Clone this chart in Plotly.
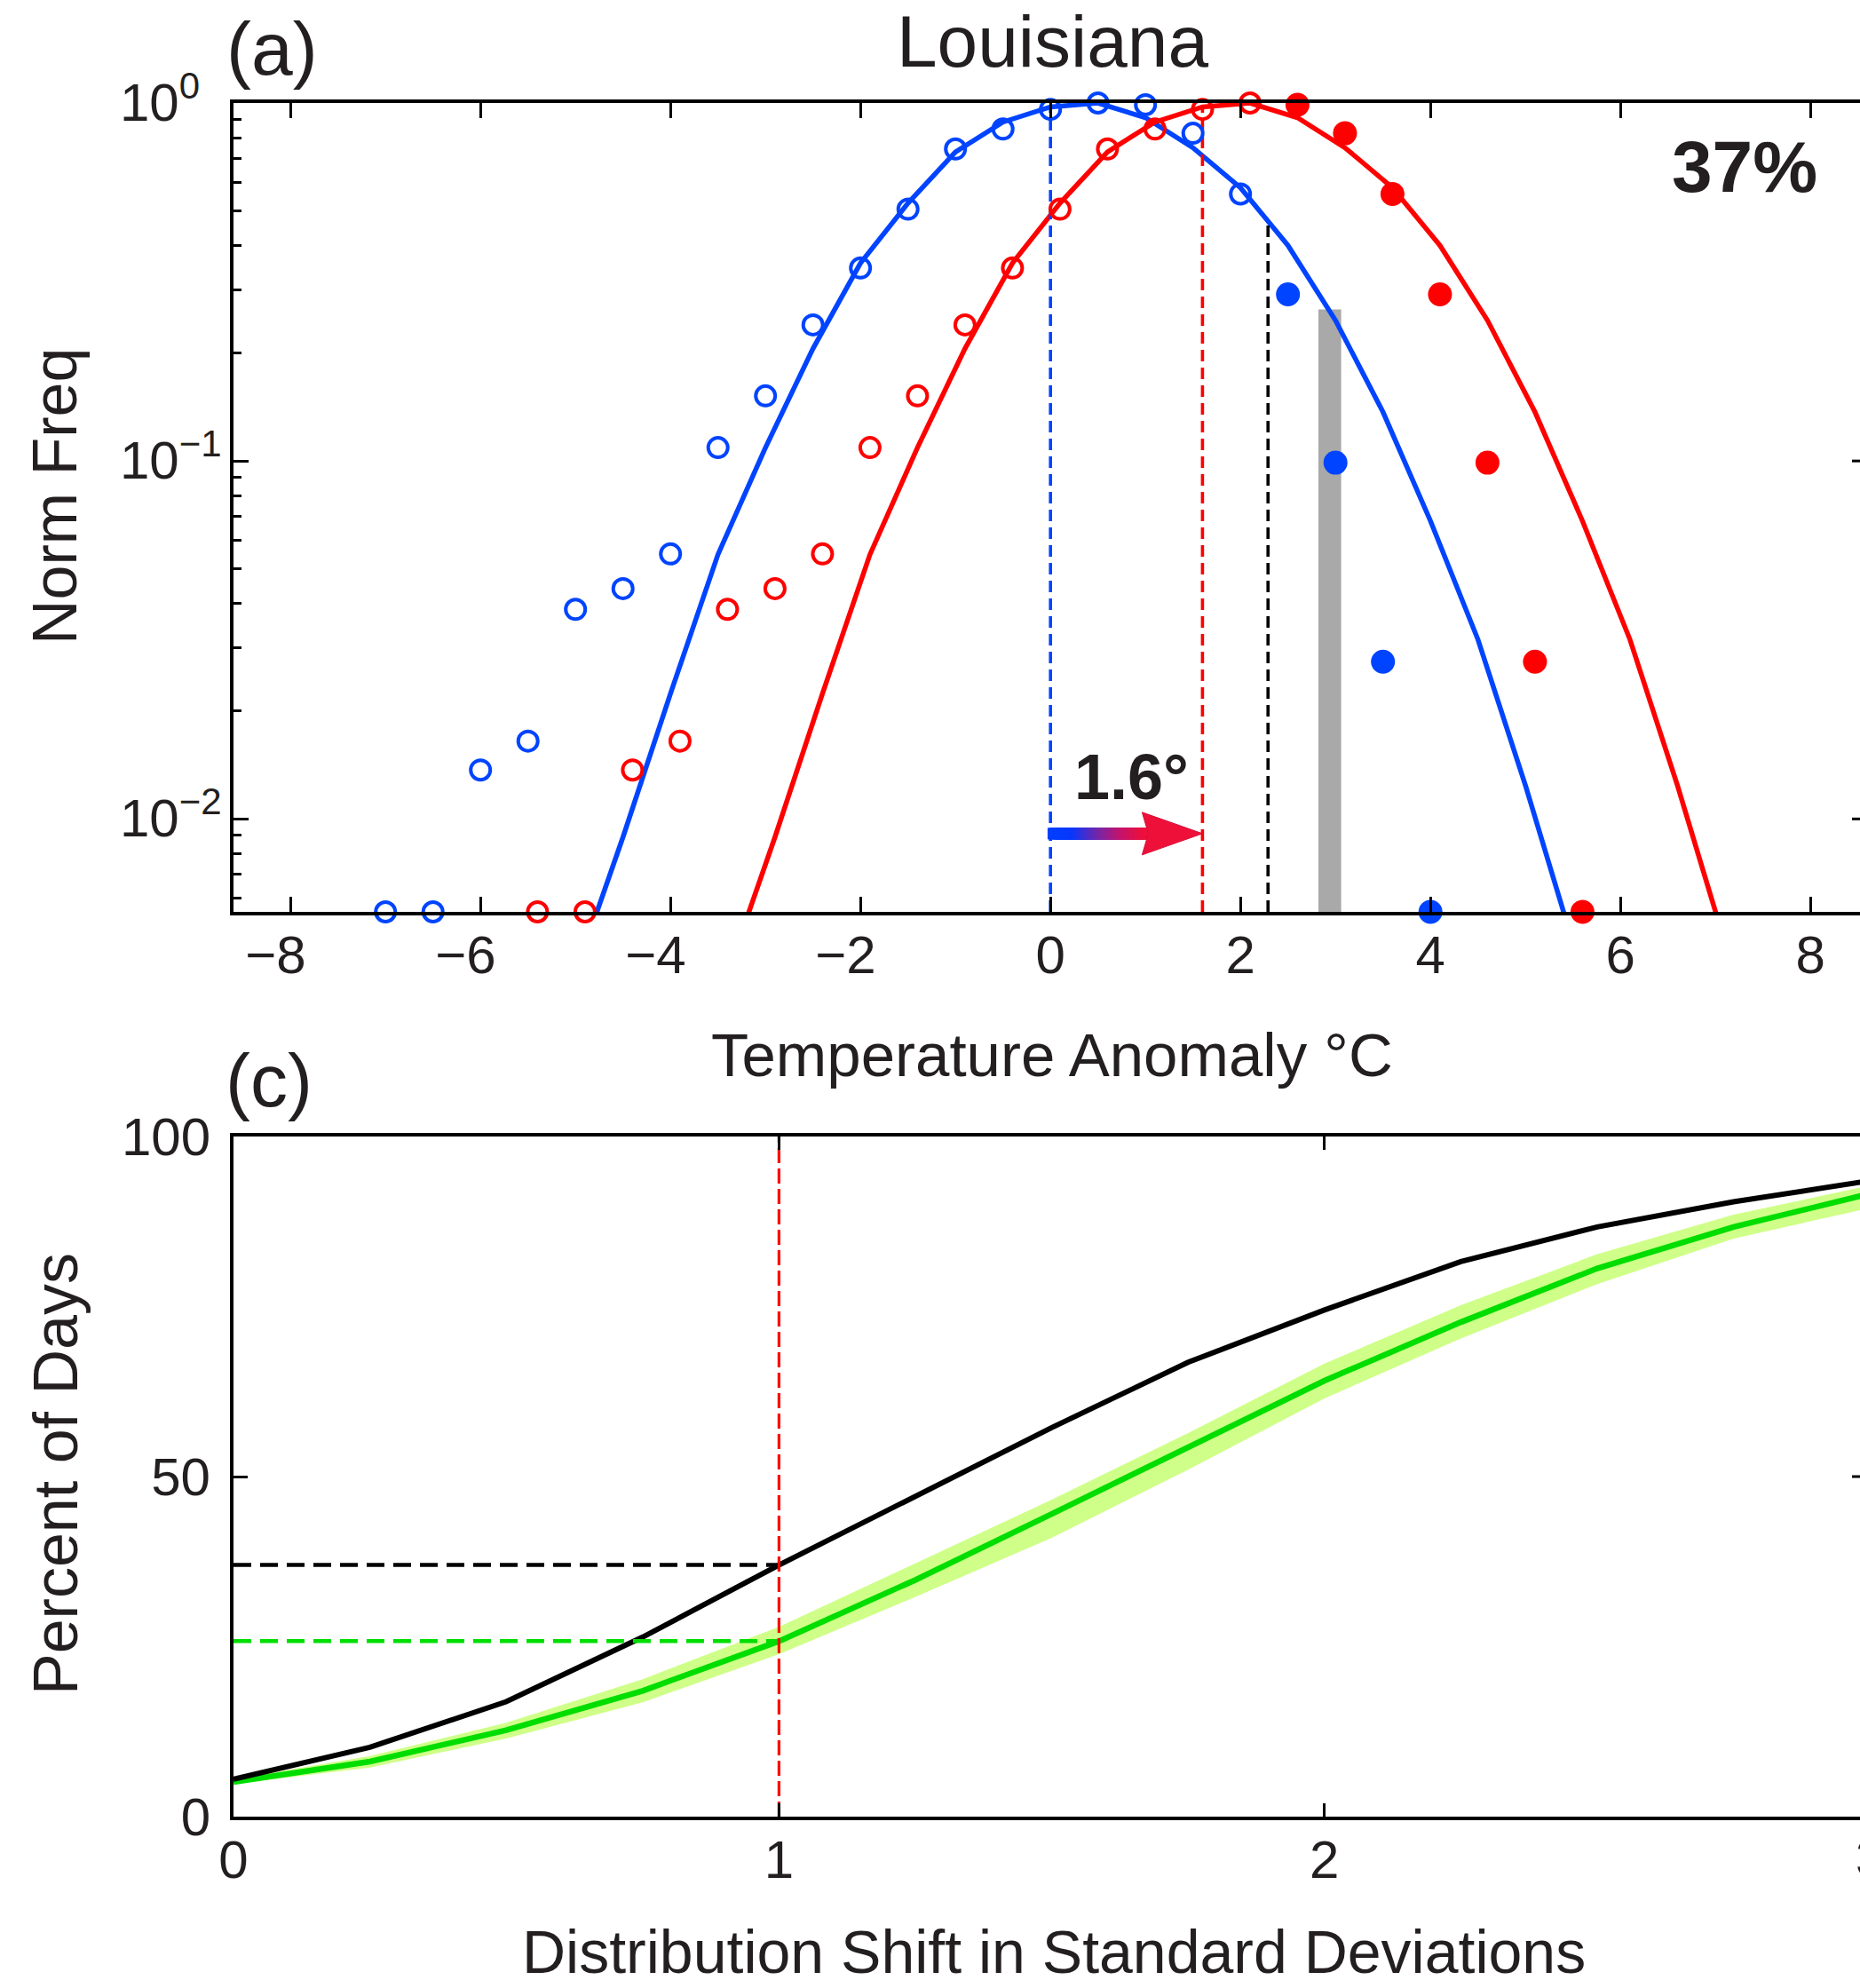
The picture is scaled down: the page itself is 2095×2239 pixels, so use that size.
import numpy as np
import plotly.graph_objects as go

W, H = 2095, 2239
FONT = "Liberation Sans, Arial, Helvetica, sans-serif"
TXT = "#231F20"
BLUE = "#0044FF"
RED = "#FF0000"
GREEN = "#00DD00"
BAND = "#CFFF88"
GRAY = "#A9A9A9"

# ---------------- panel (a): normalised frequency of daily anomalies ----------------
bins_base = [-7.0, -6.5, -6.0, -5.5, -5.0, -4.5, -4.0, -3.5, -3.0, -2.5, -2.0, -1.5,
             -1.0, -0.5, 0.0, 0.5, 1.0, 1.5, 2.0, 2.5, 3.0, 3.5, 4.0]
freq_base = [0.0055, 0.0055, 0.0137, 0.0165, 0.0385, 0.0440, 0.0550, 0.109, 0.152,
             0.240, 0.346, 0.505, 0.744, 0.846, 0.960, 1.0, 0.989, 0.823, 0.557,
             0.292, 0.0989, 0.0275, 0.0055]
bins_warm = [-5.4, -4.9, -4.4, -3.9, -3.4, -2.9, -2.4, -1.9, -1.4, -0.9, -0.4, 0.1,
             0.6, 1.1, 1.6, 2.1, 2.6, 3.1, 3.6, 4.1, 4.6, 5.1, 5.6]
freq_warm = [0.0055, 0.0055, 0.0137, 0.0165, 0.0385, 0.0440, 0.0550, 0.109, 0.152,
             0.240, 0.346, 0.505, 0.744, 0.846, 0.960, 1.0, 0.989, 0.823, 0.557,
             0.292, 0.0989, 0.0275, 0.0055]

# fitted Gaussian curves
fit_x_base = [-5.0, -4.5, -4.0, -3.5, -3.0, -2.5, -2.0, -1.5, -1.0, -0.5, 0.0,
              0.5, 1.0, 1.5, 2.0, 2.5, 3.0, 3.5, 4.0, 4.5, 5.0, 5.5]
fit_base = [0.0037, 0.0089, 0.0224, 0.0548, 0.109, 0.206, 0.357, 0.525, 0.73, 0.885,
            0.975, 1.0, 0.91, 0.75, 0.58, 0.40, 0.247, 0.137, 0.068, 0.0317, 0.0124, 0.0045]
fit_x_warm = [-3.4, -2.9, -2.4, -1.9, -1.4, -0.9, -0.4, 0.1, 0.6, 1.1, 1.6,
              2.1, 2.6, 3.1, 3.6, 4.1, 4.6, 5.1, 5.6, 6.1, 6.6, 7.1]
fit_warm = [0.0037, 0.0089, 0.0224, 0.0548, 0.109, 0.206, 0.357, 0.525, 0.73, 0.885,
            0.975, 1.0, 0.91, 0.75, 0.58, 0.40, 0.247, 0.137, 0.068, 0.0317, 0.0124, 0.0045]

mean_base = 0.0
mean_shift = 1.6          # warming shift of the distribution (deg C)
hot_threshold = 2.29      # extreme-heat threshold (deg C)
spread_x = 2.94           # grey spread bar
spread_top = 0.265
hot_pct = 37

freq_floor = 0.0055       # bottom of the log axis
x_ticks_a = [-8, -6, -4, -2, 0, 2, 4, 6, 8]
y_ticks_a = [0.01, 0.1, 1.0]
y_ticktext_a = ["10<sup>\u22122</sup>", "10<sup>\u22121</sup>", "10<sup>0</sup>"]

# ---------------- panel (c): percent of days above threshold ----------------
sd_shift = [0.0, 0.25, 0.5, 0.75, 1.0, 1.25, 1.5, 1.75, 2.0, 2.25, 2.5, 2.75, 3.0]
pct_obs = [5.5, 10.2, 16.9, 26.4, 37.0, 47.1, 57.2, 66.8, 74.5, 81.6, 86.7, 90.4, 93.5]
pct_model = [5.1, 8.1, 12.7, 18.5, 25.8, 34.8, 44.5, 54.3, 64.1, 72.7, 80.6, 86.7, 91.6]
pct_model_hi = [5.5, 8.9, 13.8, 20.2, 27.9, 37.2, 46.6, 56.4, 66.6, 75.2, 82.7, 88.5, 92.8]
pct_model_lo = [4.8, 7.2, 11.5, 16.8, 23.9, 32.3, 41.0, 51.0, 61.5, 70.3, 78.3, 85.0, 89.5]
one_sd = 1.0
x_ticks_c = [0, 1, 2, 3]
y_ticks_c = [0, 50, 100]


def px(x):
    return x / W


def py(y):
    return 1 - y / H


# plot area geometry (pixels)
LEFT = 263
A_TOP, A_BOT = 116, 1027
C_TOP, C_BOT = 1280, 2046

fig = go.Figure()

# fitted curves
fig.add_trace(go.Scatter(x=fit_x_base, y=fit_base, mode="lines",
                         line=dict(color=BLUE, width=5.5), xaxis="x", yaxis="y"))
fig.add_trace(go.Scatter(x=fit_x_warm, y=fit_warm, mode="lines",
                         line=dict(color=RED, width=5.5), xaxis="x", yaxis="y"))

# vertical reference lines
fit_at_base_mean = 10 ** np.interp(mean_base, fit_x_base, np.log10(fit_base))
fit_at_warm_mean = 10 ** np.interp(mean_shift, fit_x_warm, np.log10(fit_warm))
fit_at_thresh = 10 ** np.interp(hot_threshold, fit_x_base, np.log10(fit_base))
for xv, ytop, col in [(mean_base, fit_at_base_mean, BLUE),
                      (mean_shift, fit_at_warm_mean, RED),
                      (hot_threshold, fit_at_thresh, "black")]:
    fig.add_trace(go.Scatter(x=[xv, xv], y=[freq_floor, ytop], mode="lines",
                             line=dict(color=col, width=3.6, dash="13px,7px"),
                             xaxis="x", yaxis="y"))


def split(xs, ys):
    xs, ys = np.array(xs), np.array(ys)
    below = xs < hot_threshold
    return (xs[below], ys[below]), (xs[~below], ys[~below])


for xs, ys, col in [(bins_base, freq_base, BLUE), (bins_warm, freq_warm, RED)]:
    (xo, yo), (xf, yf) = split(xs, ys)
    fig.add_trace(go.Scatter(x=xo, y=yo, mode="markers", cliponaxis=False,
                             marker=dict(symbol="circle-open", size=22, color=col,
                                         line=dict(color=col, width=4)),
                             xaxis="x", yaxis="y"))
    fig.add_trace(go.Scatter(x=xf, y=yf, mode="markers", cliponaxis=False,
                             marker=dict(symbol="circle", size=27, color=col,
                                         line=dict(width=0)),
                             xaxis="x", yaxis="y"))

# gradient shaft of the shift arrow, built from closely packed square markers
arrow_y = 0.0091
shaft_end = mean_shift - 0.57
stops = np.array([[0, 64, 255], [10, 55, 250], [110, 40, 175], [195, 20, 110], [238, 16, 58]])
shaft_x = np.linspace(mean_base + 0.03, shaft_end, 70)
shaft_cols = []
for t in np.linspace(0, 1, len(shaft_x)):
    pos = t * (len(stops) - 1)
    k = min(int(pos), len(stops) - 2)
    f = pos - k
    c = stops[k] * (1 - f) + stops[k + 1] * f
    shaft_cols.append("rgb(%d,%d,%d)" % tuple(c.astype(int)))
fig.add_trace(go.Scatter(x=shaft_x, y=[arrow_y] * len(shaft_x), mode="markers",
                         marker=dict(symbol="square", size=13, color=shaft_cols,
                                     line=dict(width=0)),
                         xaxis="x", yaxis="y"))

# panel (c) curves
fig.add_trace(go.Scatter(x=sd_shift, y=pct_model_lo, mode="lines",
                         line=dict(width=0, color=BAND), xaxis="x2", yaxis="y2"))
fig.add_trace(go.Scatter(x=sd_shift, y=pct_model_hi, mode="lines", fill="tonexty",
                         fillcolor=BAND, line=dict(width=0, color=BAND),
                         xaxis="x2", yaxis="y2"))
fig.add_trace(go.Scatter(x=sd_shift, y=pct_model, mode="lines",
                         line=dict(color=GREEN, width=6.5), xaxis="x2", yaxis="y2"))
fig.add_trace(go.Scatter(x=sd_shift, y=pct_obs, mode="lines",
                         line=dict(color="black", width=6), xaxis="x2", yaxis="y2"))

obs_at_1sd = float(np.interp(one_sd, sd_shift, pct_obs))
model_at_1sd = float(np.interp(one_sd, sd_shift, pct_model))
fig.add_trace(go.Scatter(x=[0, one_sd], y=[obs_at_1sd, obs_at_1sd], mode="lines",
                         line=dict(color="black", width=4.5, dash="20px,10px"),
                         xaxis="x2", yaxis="y2"))
fig.add_trace(go.Scatter(x=[0, one_sd], y=[model_at_1sd, model_at_1sd], mode="lines",
                         line=dict(color=GREEN, width=4.5, dash="20px,10px"),
                         xaxis="x2", yaxis="y2"))
fig.add_trace(go.Scatter(x=[one_sd, one_sd], y=[0, 100], mode="lines",
                         line=dict(color=RED, width=3.2, dash="17px,6px"),
                         xaxis="x2", yaxis="y2"))

# shapes: grey spread bar, arrow head, right-hand tick marks
shapes = [dict(type="rect", xref="x", yref="y", x0=spread_x - 0.12, x1=spread_x + 0.12,
               y0=freq_floor, y1=spread_top, fillcolor=GRAY, line=dict(width=0),
               layer="below")]
shapes.append(dict(type="path", xref="x", yref="y", xsizemode="pixel", xanchor=mean_shift,
                   ysizemode="pixel", yanchor=arrow_y,
                   path="M 0 0 L -68 24 L -61 0 L -68 -24 Z",
                   fillcolor="#EE1038", line=dict(color="#D80F3A", width=1)))
for v in y_ticks_a[:-1]:
    shapes.append(dict(type="line", xref="paper", yref="y", x0=1 - 9 / W, x1=1,
                       y0=v, y1=v, line=dict(color="black", width=3)))
for v in y_ticks_c[1:-1]:
    shapes.append(dict(type="line", xref="paper", yref="y2", x0=1 - 9 / W, x1=1,
                       y0=v, y1=v, line=dict(color="black", width=3)))

tickfont = dict(family=FONT, size=60, color=TXT)
axis_common = dict(showgrid=False, zeroline=False, showline=True, linecolor="black",
                   linewidth=4, ticks="inside", tickcolor="black", tickwidth=3,
                   tickfont=tickfont, automargin=False)

x_range_a = [-8.6, -8.6 + (W - LEFT) / 107.0]
x_range_c = [0, (W - LEFT) / 614.4]
NB2 = "\u00a0\u00a0"

layout = dict(
    template="none",
    width=W, height=H, margin=dict(l=0, r=0, t=0, b=0, pad=0, autoexpand=False),
    paper_bgcolor="white", plot_bgcolor="white", showlegend=False,
    font=dict(family=FONT, color=TXT),
    xaxis=dict(domain=[px(LEFT), 1], anchor="y", range=x_range_a, tickvals=x_ticks_a,
               ticktext=[("\u2212%d%s" % (abs(v), NB2)) if v < 0 else str(v) for v in x_ticks_a],
               ticklen=17, mirror="ticks", ticklabelstandoff=-7, **axis_common),
    yaxis=dict(domain=[py(A_BOT), py(A_TOP)], anchor="x", type="log",
               range=[np.log10(freq_floor), 0], tickvals=y_ticks_a, showticklabels=False,
               ticklen=17, mirror=False,
               minor=dict(ticks="inside", ticklen=9, tickwidth=3, tickcolor="black",
                          dtick="D1", showgrid=False),
               **axis_common),
    xaxis2=dict(domain=[px(LEFT), 1], anchor="y2", range=x_range_c, tickvals=x_ticks_c,
                ticklen=15, mirror="ticks", ticklabelstandoff=-7, **axis_common),
    yaxis2=dict(domain=[py(C_BOT), py(C_TOP)], anchor="x2", range=[0, 100],
                tickvals=y_ticks_c, ticklen=16, mirror=False, ticklabelstandoff=10,
                **axis_common),
    shapes=shapes,
)

ann = []
# log-axis tick labels, left aligned like the "10" stems
for v, t in zip(y_ticks_a, y_ticktext_a):
    ann.append(dict(text=t, xref="paper", yref="y", x=px(133), y=np.log10(v),
                    xanchor="left", yanchor="middle", yshift=5, showarrow=False,
                    font=tickfont))
# last tick label of panel (c) sits on the right edge
ann.append(dict(text=str(x_ticks_c[-1]), xref="paper", yref="paper",
                x=px(LEFT + x_ticks_c[-1] * 614.4), y=py(2092),
                xanchor="center", yanchor="middle", showarrow=False, font=tickfont))


def label(text, x, y, size, bold=False, angle=0):
    t = "<b>%s</b>" % text if bold else text
    ann.append(dict(text=t, xref="paper", yref="paper", x=px(x), y=py(y),
                    xanchor="center", yanchor="middle", showarrow=False, textangle=angle,
                    font=dict(family=FONT, size=size, color=TXT)))


label("Louisiana", 1185, 46, 82)
label("(a)", 306, 55, 84)
label("(c)", 303, 1217, 84)
label("%d%%" % hot_pct, 1965, 188, 82, bold=True)
label("%.1f\u00b0" % mean_shift, 1274, 875, 72, bold=True)
label("Temperature Anomaly \u00b0C", 1185, 1188, 69)
label("Distribution Shift in Standard Deviations", 1187, 2198, 68)
label("Norm Freq", 62, 559, 70, angle=-90)
label("Percent of Days", 63, 1660, 70, angle=-90)

layout["annotations"] = ann
fig.update_layout(**layout)
fig.write_html("out.html")
